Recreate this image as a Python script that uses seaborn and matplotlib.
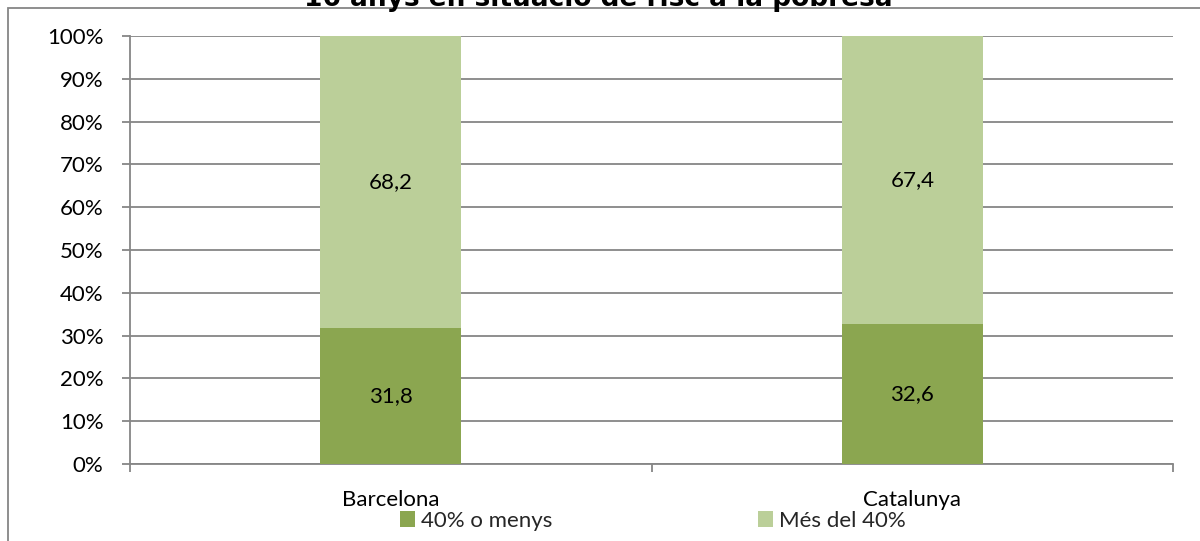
import matplotlib
matplotlib.use("Agg")
import matplotlib.pyplot as plt
from matplotlib.patches import Rectangle, Patch
from matplotlib.ticker import FixedLocator, PercentFormatter
import seaborn as sns
import pandas as pd

# Data
categories = ["Barcelona", "Catalunya"]
series_names = ["40% o menys", "Més del 40%"]
low_share = [31.8, 32.6]     # 40% o menys
high_share = [68.2, 67.4]    # Més del 40%
y_ticks = [0, 10, 20, 30, 40, 50, 60, 70, 80, 90, 100]
title = "16 anys en situació de risc a la pobresa"

dark_green = "#8BA650"
light_green = "#BBCF99"
grid_gray = "#868686"

sns.set_theme(style="white")
plt.rcParams["font.family"] = ["Lato", "DejaVu Sans"]

W, H = 1200, 541
fig = plt.figure(figsize=(W / 100, H / 100), dpi=100)
ax = fig.add_axes([130 / W, 1 - 464 / H, (1173 - 130) / W, (464 - 36) / H])

df = pd.DataFrame({"cat": categories, "low": low_share, "high": high_share})
df["total"] = df["low"] + df["high"]

# stacked bars: full stack in light green, lower share overlaid in dark green
sns.barplot(data=df, x="cat", y="total", color=light_green, width=0.27,
            saturation=1, ax=ax, zorder=3, linewidth=0, edgecolor="none")
sns.barplot(data=df, x="cat", y="low", color=dark_green, width=0.27,
            saturation=1, ax=ax, zorder=4, linewidth=0, edgecolor="none")

for i, (lo, hi) in enumerate(zip(low_share, high_share)):
    ax.text(i, lo / 2, f"{lo:.1f}".replace(".", ","), ha="center", va="center",
            fontsize=16, color="black", zorder=5)
    ax.text(i, lo + hi / 2, f"{hi:.1f}".replace(".", ","), ha="center", va="center",
            fontsize=16, color="black", zorder=5)

ax.set_xlim(-0.5, 1.5)
ax.set_ylim(0, 100)
ax.yaxis.set_major_locator(FixedLocator(y_ticks))
ax.yaxis.set_major_formatter(PercentFormatter(decimals=0))
ax.set_xlabel("")
ax.set_ylabel("")

ax.grid(axis="y", color=grid_gray, linewidth=1.3, zorder=0)
ax.set_axisbelow(True)
for side in ("top", "right"):
    ax.spines[side].set_visible(False)
for side in ("left", "bottom"):
    ax.spines[side].set_color(grid_gray)
    ax.spines[side].set_linewidth(1.3)

ax.tick_params(axis="y", length=6, width=1.3, color=grid_gray, direction="out",
               pad=13, labelsize=16, labelcolor="black", left=True)
ax.xaxis.set_minor_locator(FixedLocator([-0.5, 0.5, 1.5]))
ax.tick_params(axis="x", which="major", length=0, pad=19, labelsize=16,
               labelcolor="black")
ax.tick_params(axis="x", which="minor", length=6, width=1.3, color=grid_gray,
               direction="out", bottom=True)

# legend entries
for name, color, x0 in zip(series_names, [dark_green, light_green], [400, 758]):
    fig.legend(handles=[Patch(facecolor=color, edgecolor="none")], labels=[name],
               loc="center left", bbox_to_anchor=(x0 / W, 1 - 521 / H),
               frameon=False, fontsize=16, handlelength=0.68, handleheight=0.72,
               handletextpad=0.27, borderpad=0, borderaxespad=0)

# chart frame and title (the title sits partly above the top edge)
fig.patches.append(Rectangle((8 / W, -0.2), 1.5, 1.2 - 8 / H, transform=fig.transFigure,
                             fill=False, edgecolor=grid_gray, linewidth=1.3))
fig.text(598 / W, 1 - 6 / H, title, ha="center", va="baseline",
         fontsize=19, fontweight="bold", family="DejaVu Sans", color="black")

fig.savefig("out.png", dpi=100)
